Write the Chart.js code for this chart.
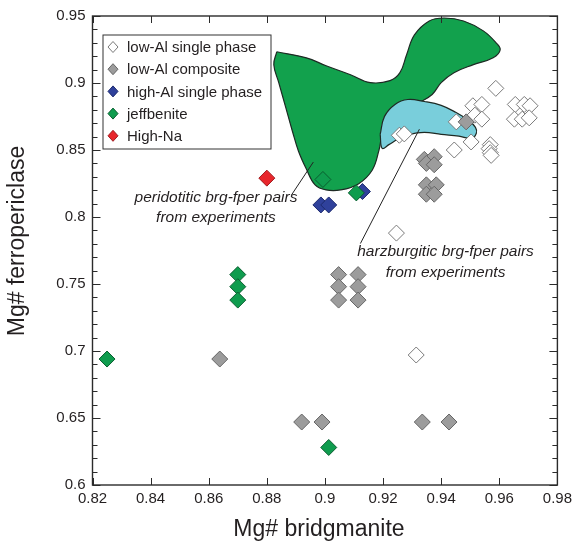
<!DOCTYPE html>
<html>
<head>
<meta charset="utf-8">
<style>
  html, body { margin: 0; padding: 0; background: #fff; }
  #wrap { width: 577px; height: 547px; }
</style>
<script src="https://cdn.jsdelivr.net/npm/chart.js@4.4.1/dist/chart.umd.min.js"></script>
</head>
<body>
<div id="wrap"><canvas id="chart" width="577" height="547"></canvas></div>
<script>
const FONT = '"Liberation Sans", Arial, Helvetica, sans-serif';
const INK = '#231f20';

const xTicks = [0.82, 0.84, 0.86, 0.88, 0.9, 0.92, 0.94, 0.96, 0.98];
const yTicks = [0.6, 0.65, 0.7, 0.75, 0.8, 0.85, 0.9, 0.95];

const seriesNames = ['low-Al single phase', 'low-Al composite', 'high-Al single phase', 'jeffbenite', 'High-Na'];

// [Mg# bridgmanite, Mg# ferropericlase]
const lowAlSingle = [
  [0.9256, 0.861], [0.9273, 0.862], [0.9452, 0.871], [0.9445, 0.850],
  [0.9588, 0.896], [0.9509, 0.883], [0.9540, 0.884], [0.9516, 0.876],
  [0.9540, 0.873], [0.9503, 0.856], [0.9569, 0.854], [0.9565, 0.851],
  [0.9569, 0.848], [0.9572, 0.846], [0.9655, 0.884], [0.9686, 0.884],
  [0.9706, 0.883], [0.9652, 0.873], [0.9679, 0.873], [0.9703, 0.874],
  [0.9246, 0.788], [0.9314, 0.697]
];
const lowAlComposite = [
  [0.8638, 0.694], [0.892, 0.647], [0.899, 0.647], [0.9335, 0.647], [0.9427, 0.647],
  [0.9047, 0.757], [0.9047, 0.748], [0.9047, 0.738],
  [0.9114, 0.757], [0.9114, 0.748], [0.9114, 0.738],
  [0.9342, 0.843], [0.9376, 0.845], [0.9349, 0.840], [0.9376, 0.839],
  [0.9349, 0.824], [0.9383, 0.824], [0.9349, 0.817], [0.9376, 0.817],
  [0.9486, 0.871]
];
const highAlSingle = [[0.8986, 0.809], [0.9013, 0.809], [0.9129, 0.819]];
const jeffbenite = [
  [0.825, 0.694], [0.87, 0.757], [0.87, 0.748], [0.87, 0.738],
  [0.9013, 0.628], [0.8993, 0.828], [0.9108, 0.818]
];
const highNa = [[0.880, 0.829]];

// outlines of the experimental fields
const peridotiticField = [
  [0.8834, 0.9233], [0.8936, 0.9188], [0.9004, 0.9129], [0.9088, 0.9062],
  [0.9156, 0.9003], [0.9224, 0.9018], [0.9258, 0.9077], [0.9281, 0.9211],
  [0.9308, 0.9359], [0.9359, 0.9463], [0.9410, 0.9485], [0.9477, 0.9463],
  [0.9545, 0.9389], [0.9589, 0.9300], [0.9603, 0.9248], [0.9579, 0.9189],
  [0.9511, 0.9137], [0.9444, 0.9077], [0.9400, 0.9003], [0.9369, 0.8914],
  [0.9325, 0.8855], [0.9241, 0.8766], [0.9200, 0.8632], [0.9186, 0.8499],
  [0.9163, 0.8351], [0.9115, 0.8247], [0.9054, 0.8202], [0.9004, 0.8202],
  [0.8966, 0.8240], [0.8936, 0.8358], [0.8909, 0.8491], [0.8888, 0.8640],
  [0.8865, 0.8818], [0.8841, 0.9003], [0.8824, 0.9136], [0.8834, 0.9233]
];
const harzburgiticField = [
  [0.9190, 0.8617], [0.9205, 0.8751], [0.9241, 0.8840], [0.9285, 0.8877],
  [0.9342, 0.8862], [0.9400, 0.8833], [0.9450, 0.8781], [0.9494, 0.8721],
  [0.9518, 0.8669], [0.9521, 0.8625], [0.9505, 0.8588], [0.9461, 0.8603],
  [0.9400, 0.8617], [0.9342, 0.8632], [0.9291, 0.8617], [0.9251, 0.8580],
  [0.9220, 0.8540], [0.9197, 0.8512], [0.9190, 0.8617]
];
const peridotiticLeader = [[0.8885, 0.8165], [0.8960, 0.8410]];
const harzburgiticLeader = [[0.9122, 0.7802], [0.9325, 0.8655]];

const notes = [
  { x: 0.8625, y: 0.8145, text: 'peridotitic brg-fper pairs' },
  { x: 0.8625, y: 0.7995, text: 'from experiments' },
  { x: 0.9415, y: 0.7740, text: 'harzburgitic brg-fper pairs' },
  { x: 0.9415, y: 0.7585, text: 'from experiments' }
];

const toXY = arr => arr.map(p => ({ x: p[0], y: p[1] }));

function markers(label, data, fill, edge, order) {
  return {
    label, data: toXY(data), order,
    pointStyle: 'rectRot', pointRadius: 8, pointHoverRadius: 8,
    backgroundColor: fill, borderColor: edge, borderWidth: 1, showLine: false
  };
}

function field(data, fill, order) {
  return {
    label: '', data: toXY(data), order, showLine: true, fill: 'shape',
    backgroundColor: fill, borderColor: '#1e2a24', borderWidth: 1.2,
    pointRadius: 0, tension: 0.4
  };
}

function leader(data) {
  return {
    label: '', data: toXY(data), order: 6, showLine: true, fill: false,
    borderColor: '#222', borderWidth: 1, pointRadius: 0
  };
}

const framePlugin = {
  id: 'frame',
  afterDatasetsDraw(chart) {
    const { ctx, chartArea: a, scales: { x, y } } = chart;
    ctx.save();
    ctx.strokeStyle = '#2b2b2b';
    ctx.lineWidth = 1;
    ctx.beginPath();
    xTicks.forEach(v => {
      const px = Math.round(x.getPixelForValue(v)) + 0.5;
      ctx.moveTo(px, a.bottom); ctx.lineTo(px, a.bottom - 7);
      ctx.moveTo(px, a.top); ctx.lineTo(px, a.top + 7);
    });
    for (let i = 0; i <= 35; i++) {
      const py = Math.round(y.getPixelForValue(0.6 + i * 0.01)) + 0.5;
      const len = i % 5 === 0 ? 8 : 5;
      ctx.moveTo(a.left, py); ctx.lineTo(a.left + len, py);
      ctx.moveTo(a.right, py); ctx.lineTo(a.right - len, py);
    }
    ctx.stroke();
    ctx.lineWidth = 1.4;
    ctx.strokeRect(a.left, a.top, a.right - a.left, a.bottom - a.top);

    // axis titles
    ctx.fillStyle = INK;
    ctx.font = '23px ' + FONT;
    ctx.textAlign = 'center';
    ctx.textBaseline = 'middle';
    ctx.fillText('Mg# bridgmanite', 319, 530);
    ctx.save();
    ctx.translate(18, 241);
    ctx.rotate(-Math.PI / 2);
    ctx.fillText('Mg# ferropericlase', 0, 0);
    ctx.restore();

    // notes
    ctx.font = 'italic 15.5px ' + FONT;
    notes.forEach(n => ctx.fillText(n.text, x.getPixelForValue(n.x), y.getPixelForValue(n.y)));

    // legend
    const lx = a.left + 10.5, ly = a.top + 19;
    ctx.fillStyle = '#fff';
    ctx.fillRect(lx, ly, 168, 114);
    ctx.strokeStyle = '#333';
    ctx.lineWidth = 1;
    ctx.strokeRect(lx, ly, 168, 114);
    ctx.font = '15px ' + FONT;
    ctx.textAlign = 'left';
    seriesNames.forEach((name, i) => {
      const ds = chart.data.datasets[i];
      const cy = ly + 12 + i * 22.2;
      const cx = lx + 10;
      ctx.beginPath();
      ctx.moveTo(cx, cy - 5.5); ctx.lineTo(cx + 5, cy); ctx.lineTo(cx, cy + 5.5); ctx.lineTo(cx - 5, cy);
      ctx.closePath();
      ctx.fillStyle = ds.backgroundColor; ctx.fill();
      ctx.strokeStyle = ds.borderColor; ctx.stroke();
      ctx.fillStyle = INK;
      ctx.fillText(name, lx + 24, cy + 1);
    });
    ctx.restore();
  }
};

new Chart(document.getElementById('chart'), {
  type: 'scatter',
  data: {
    datasets: [
      markers(seriesNames[0], lowAlSingle, '#ffffff', '#7a7a7a', 4),
      markers(seriesNames[1], lowAlComposite, '#9c9c9c', '#666666', 3),
      markers(seriesNames[2], highAlSingle, '#2f419b', '#1c2a6e', 2),
      markers(seriesNames[3], jeffbenite, '#0f9c4e', '#0a5e30', 1),
      markers(seriesNames[4], highNa, '#e8262c', '#a11b1f', 0),
      field(peridotiticField, '#12a14d', 12),
      field(harzburgiticField, '#79cedb', 11),
      leader(peridotiticLeader),
      leader(harzburgiticLeader)
    ]
  },
  options: {
    responsive: false,
    animation: false,
    layout: { padding: { top: 13, right: 12, left: 0, bottom: 0 } },
    plugins: { legend: { display: false }, tooltip: { enabled: false } },
    scales: {
      x: {
        type: 'linear', min: 0.82, max: 0.98,
        afterFit: s => { s.height = 62; },
        afterBuildTicks: s => { s.ticks = xTicks.map(v => ({ value: v })); },
        grid: { display: false, drawTicks: false },
        border: { display: false },
        ticks: { padding: 5, color: INK, font: { family: FONT, size: 15 }, callback: v => String(+v.toFixed(2)) }
      },
      y: {
        type: 'linear', min: 0.6, max: 0.95,
        afterFit: s => { s.width = 92.5; },
        afterBuildTicks: s => { s.ticks = yTicks.map(v => ({ value: v })); },
        grid: { display: false, drawTicks: false },
        border: { display: false },
        ticks: { padding: 7, color: INK, font: { family: FONT, size: 15 }, callback: v => String(+v.toFixed(2)) }
      }
    }
  },
  plugins: [framePlugin]
});
</script>
</body>
</html>
